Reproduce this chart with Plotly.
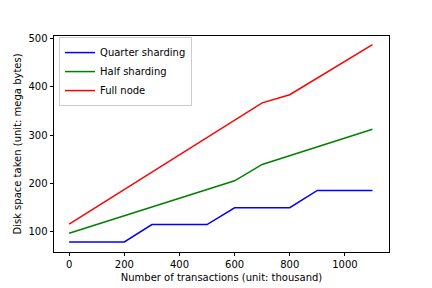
import plotly.graph_objects as go

transactions = [0, 100, 200, 300, 400, 500, 600, 700, 800, 900, 1000, 1100]
quarter_sharding = [78, 78, 78, 114, 114, 114, 149, 149, 149, 185, 185, 185]
half_sharding = [96, 114, 132, 150, 168, 187, 205, 239, 257, 275, 293, 312]
full_node = [115, 151, 187, 223, 259, 295, 331, 367, 384, 419, 453, 488]

x_ticks = [0, 200, 400, 600, 800, 1000]
y_ticks = [100, 200, 300, 400, 500]

fig = go.Figure()
fig.add_trace(go.Scatter(x=transactions, y=quarter_sharding, mode="lines",
                         name="Quarter sharding", line=dict(color="blue", width=1.5)))
fig.add_trace(go.Scatter(x=transactions, y=half_sharding, mode="lines",
                         name="Half sharding", line=dict(color="green", width=1.5)))
fig.add_trace(go.Scatter(x=transactions, y=full_node, mode="lines",
                         name="Full node", line=dict(color="red", width=1.5)))

axis_common = dict(showgrid=False, zeroline=False, showline=True, mirror=True,
                   linecolor="black", linewidth=0.8, ticks="outside", ticklen=3.5,
                   tickwidth=0.8, tickcolor="black", automargin=False,
                   tickfont=dict(family="DejaVu Sans", size=10, color="black"))

fig.update_layout(
    width=432, height=288,
    margin=dict(l=54, r=43, t=36, b=36),
    plot_bgcolor="white", paper_bgcolor="white",
    font=dict(family="DejaVu Sans", size=10, color="black"),
    xaxis=dict(range=[-55, 1160], tickvals=x_ticks,
               title=dict(text="Number of transactions (unit: thousand)", standoff=4,
                          font=dict(size=10)), **axis_common),
    yaxis=dict(range=[57, 506], tickvals=y_ticks,
               title=dict(text="Disk space taken (unit: mega bytes)", standoff=5,
                          font=dict(size=10)), **axis_common),
    legend=dict(x=0.015, y=0.995, xanchor="left", yanchor="top",
                bgcolor="rgba(255,255,255,0.8)", bordercolor="#cccccc", borderwidth=1,
                font=dict(family="DejaVu Sans", size=10), tracegroupgap=0,
                itemwidth=30),
    showlegend=True,
)

fig.write_html("out.html", config={"displayModeBar": False},
               post_script="document.body.style.margin='0';document.body.style.overflow='hidden';")
